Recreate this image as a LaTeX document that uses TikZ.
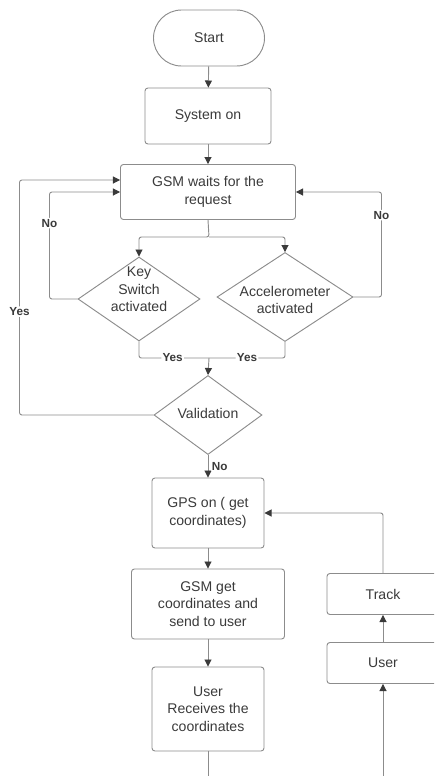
\documentclass[tikz,border=0pt]{standalone}
\usepackage{fontspec}
\setmainfont{Liberation Sans}
\usetikzlibrary{shapes.geometric,arrows.meta}
\definecolor{linegray}{HTML}{8C8C8C}
\definecolor{textgray}{HTML}{3A3A3A}
\newcommand{\dlabel}[2][0pt]{\smash{\raisebox{#1}{\makebox[0pt]{\begin{tabular}{@{}c@{}}#2\end{tabular}}}}}

\begin{document}
\begin{tikzpicture}[x=0.03cm, y=-0.03cm,
  every node/.style={font=\fontsize{12}{15}\selectfont, text=textgray},
  box/.style={draw=linegray, line width=0.8pt, rounded corners=2.5pt, align=center, inner sep=0pt},
  dec/.style={diamond, draw=linegray, line width=0.8pt, inner sep=0pt},
  flow/.style={draw=linegray, line width=0.8pt, rounded corners=2pt,
    -{Triangle[length=6pt, width=6pt, fill=textgray, color=textgray]}},
  tag/.style={font=\fontsize{10}{12}\selectfont\bfseries, fill=white, inner sep=1pt}]
  \useasboundingbox (0,0) rectangle (434,776);
  \clip (0,0) rectangle (434,776);

  % Main column
  \node[box, minimum width=3.33cm, minimum height=1.68cm, rounded corners=0.84cm] (start) at (209,38) {Start};
  \node[box, minimum width=3.78cm, minimum height=1.68cm] (syson) at (208,116) {System on};
  \node[box, minimum width=5.25cm, minimum height=1.65cm] (wait) at (208,192) {GSM waits for the\\request};
  \node[dec, minimum width=3.66cm, minimum height=2.52cm] (key) at (139,299) {\dlabel[4pt]{Key\\Switch\\activated}};
  \node[dec, minimum width=4.08cm, minimum height=2.67cm] (acc) at (285,297) {\dlabel[-7pt]{Accelerometer\\activated}};
  \node[dec, minimum width=3.24cm, minimum height=2.37cm] (valid) at (208,415) {\dlabel[-3pt]{Validation}};
  \node[box, minimum width=3.36cm, minimum height=2.1cm] (gps) at (208,513) {GPS on ( get\\coordinates)};
  \node[box, minimum width=4.59cm, minimum height=2.1cm] (send) at (208,604) {GSM get\\coordinates and\\send to user};
  \node[box, minimum width=3.36cm, minimum height=2.52cm] (recv) at (208,709) {User\\Receives the\\coordinates};

  % Tracking side
  \node[box, minimum width=3.36cm, minimum height=1.23cm] (track) at (383,594) {Track};
  \node[box, minimum width=3.36cm, minimum height=1.23cm] (user) at (383,663) {User};

  \coordinate (split) at (209,237);
  \coordinate (join) at (209,358);
  \coordinate (out) at (208,790);
  \coordinate (feed) at (383,790);

  % Connectors
  \draw[flow] (start) -- (syson);
  \draw[flow] (syson) -- (wait);
  \draw[flow] (wait.south) -- (split) -| (key.north);
  \draw[flow] (split) -| (acc.north);
  \draw[flow] (key.west) -- ++(-28,0) |- node[tag, pos=0.355] {No} (wait.west);
  \draw[flow] (acc.east) -- ++(28,0) |- node[tag, pos=0.39] {No} (wait.east);
  \draw[flow, -] (key.south) |- node[tag, pos=0.74] {Yes} (join);
  \draw[flow, -] (acc.south) |- node[tag, pos=0.75] {Yes} (join);
  \draw[flow] (join) -- (valid.north);
  \draw[flow] (valid.west) -- ++(-134,0) |- node[tag, pos=0.22] {Yes} (wait.west |- 0,180);
  \draw[flow] (valid.south) -- node[tag, right, xshift=2pt] {No} (gps.north);
  \draw[flow] (gps) -- (send);
  \draw[flow] (send) -- (recv);
  \draw[flow, -] (recv.south) -- (out);
  \draw[flow] (feed) -- (user.south);
  \draw[flow] (user) -- (track);
  \draw[flow] (track.north) |- (gps.east);
\end{tikzpicture}
\end{document}
